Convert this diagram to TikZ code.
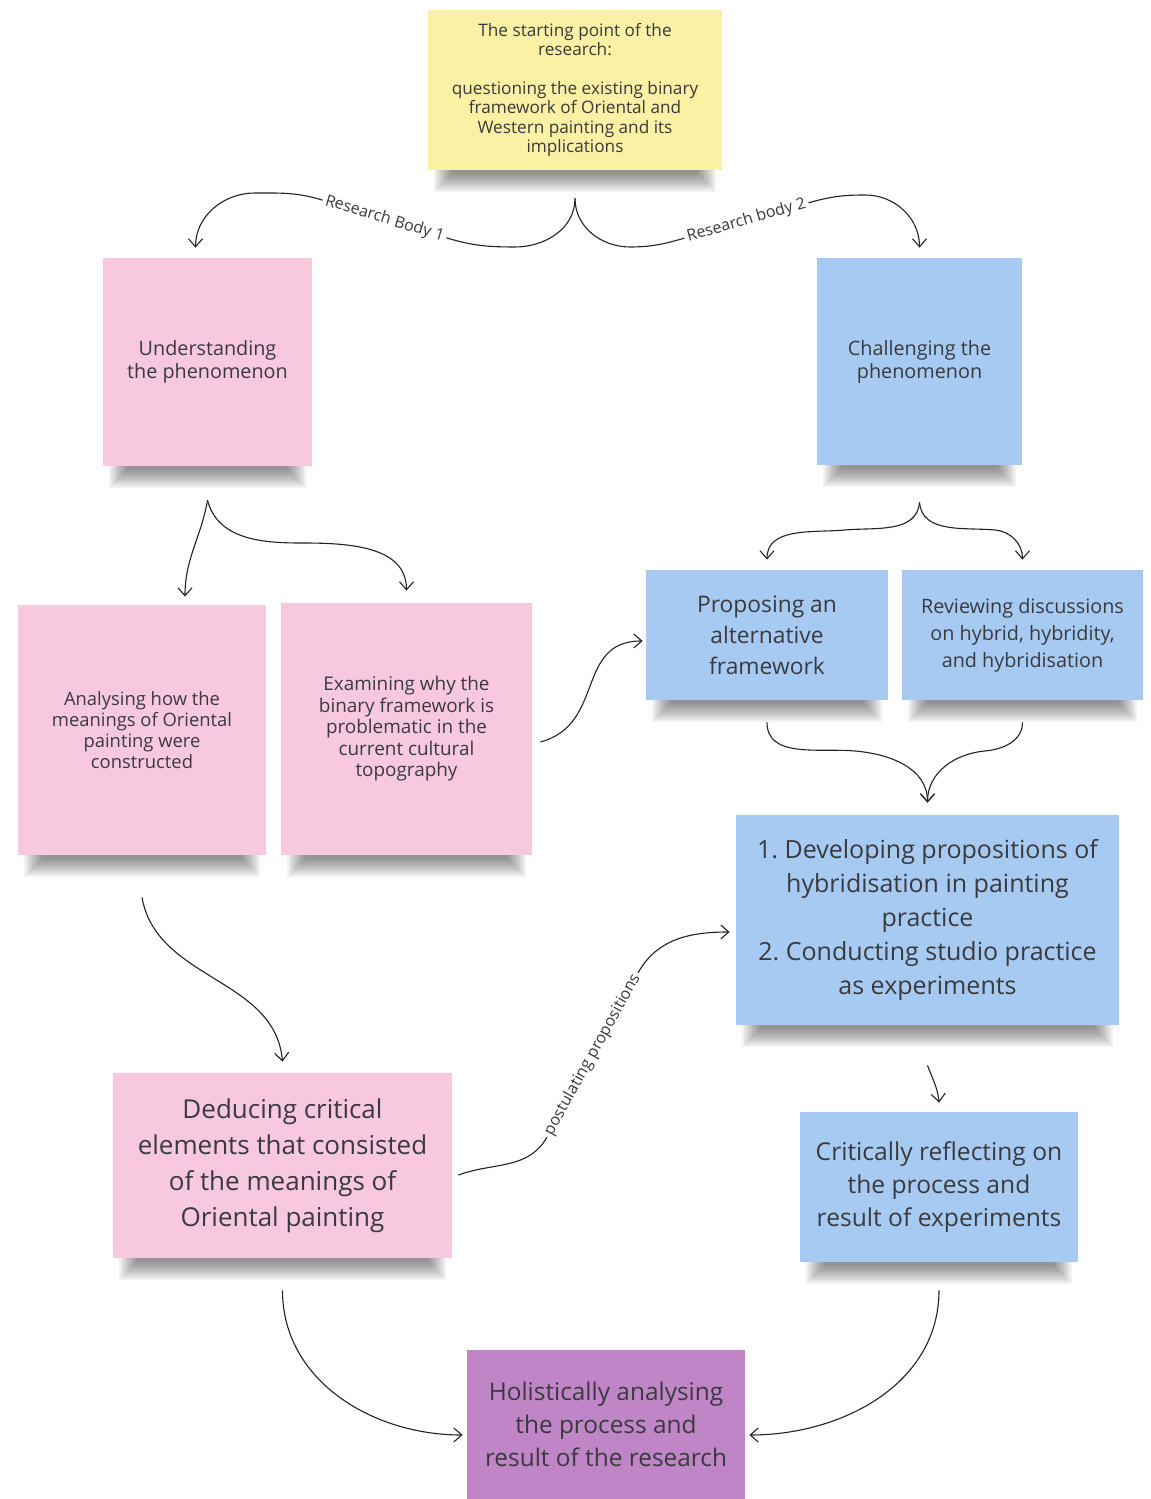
\documentclass[tikz,border=0pt]{standalone}
\usepackage{fontspec}
\setmainfont{Open Sans}
\usepackage{tikz}
\usetikzlibrary{arrows.meta}
\definecolor{noteYellow}{RGB}{250,241,164}
\definecolor{notePink}{RGB}{248,201,222}
\definecolor{noteBlue}{RGB}{167,202,242}
\definecolor{notePurple}{RGB}{191,133,199}
\definecolor{noteInk}{RGB}{58,58,62}
\definecolor{lineInk}{RGB}{35,35,35}
\pgfdeclarelayer{background}
\pgfsetlayers{background,main}

\tikzset{
  note/.style={rectangle, inner sep=0pt, align=center, text=noteInk},
  link/.style={lineInk, line width=0.55pt, -{Straight Barb[length=4pt,width=7pt]}},
  linklabel/.style={fill=white, inner sep=1.5pt, text=noteInk, sloped,
    font=\fontsize{8}{9.5}\selectfont}
}

\begin{document}
\begin{tikzpicture}[x=0.5pt,y=0.5pt]
\useasboundingbox (0,0) rectangle (1151,1499);

% sticky notes
\node[note, fill=noteYellow, minimum width=147pt, minimum height=80pt,
  font=\fontsize{8.6}{9.65}\selectfont] (start) at (575,1409)
  {The starting point of the\\research:\\[9.65pt]questioning the existing binary\\framework of Oriental and\\Western painting and its\\implications};
\node[note, fill=notePink, minimum width=104.5pt, minimum height=104pt,
  font=\fontsize{9.9}{11.5}\selectfont] (under) at (207.5,1137)
  {Understanding\\the phenomenon};
\node[note, fill=noteBlue, minimum width=102.5pt, minimum height=103.5pt,
  font=\fontsize{9.9}{11.5}\selectfont] (chal) at (919.5,1137.5)
  {Challenging the\\phenomenon};
\node[note, fill=notePink, minimum width=124pt, minimum height=125pt,
  font=\fontsize{9.2}{10.5}\selectfont] (anal) at (142,769)
  {Analysing how the\\meanings of Oriental\\painting were\\constructed};
\node[note, fill=notePink, minimum width=125.5pt, minimum height=126pt,
  font=\fontsize{9.45}{10.75}\selectfont] (exam) at (406.5,770)
  {Examining why the\\binary framework is\\problematic in the\\current cultural\\topography};
\node[note, fill=noteBlue, minimum width=121pt, minimum height=65pt,
  font=\fontsize{11.4}{15.5}\selectfont] (prop) at (767,864)
  {Proposing an\\alternative\\framework};
\node[note, fill=noteBlue, minimum width=120.5pt, minimum height=65pt,
  font=\fontsize{9.9}{13.5}\selectfont] (rev) at (1022.5,864)
  {Reviewing discussions\\on hybrid, hybridity,\\and hybridisation};
\node[note, fill=noteBlue, minimum width=191.5pt, minimum height=105pt,
  font=\fontsize{12.5}{17}\selectfont] (dev) at (927.5,579)
  {1.\ Developing propositions of\\hybridisation in painting\\practice\\2.\ Conducting studio practice\\as experiments};
\node[note, fill=notePink, minimum width=169.5pt, minimum height=92.5pt,
  font=\fontsize{13}{18}\selectfont] (dedu) at (282.5,333.5)
  {Deducing critical\\elements that consisted\\of the meanings of\\Oriental painting};
\node[note, fill=noteBlue, minimum width=139pt, minimum height=75pt,
  font=\fontsize{12.3}{16.5}\selectfont] (crit) at (939,312)
  {Critically reflecting on\\the process and\\result of experiments};
\node[note, fill=notePurple, minimum width=139pt, minimum height=74.5pt,
  font=\fontsize{12.2}{16.5}\selectfont] (holi) at (606,74.5)
  {Holistically analysing\\the process and\\result of the research};

% soft shadows under the bottom edges
\begin{pgfonlayer}{background}
\fill[white] (0,0) rectangle (1151,1499);
\foreach \n in {start,under,chal,anal,exam,prop,rev,dev,dedu,crit,holi}
  \foreach \k in {1,...,10}
    \fill[black, opacity=0.05]
      ([shift={({(2+\k)*1pt},2pt)}]\n.south west) rectangle
      ([shift={({-(2+\k)*1pt},{(\k-12)*1pt})}]\n.south east);
\end{pgfonlayer}

% connectors
\draw[link] ([yshift=-14pt]start.south) to[out=-90,in=0] (515,1252)
  to[out=180,in=-17] (447,1261) -- node[linklabel]{Research Body 1} (322,1299)
  to[out=163,in=0] (255,1306) to[out=180,in=90] ([shift={(-6pt,5pt)}]under.north);
\draw[link] ([yshift=-14pt]start.south) to[out=-90,in=180] (630,1252)
  to[out=0,in=196] (685,1261) -- node[linklabel]{Research body 2} (808,1296)
  to[out=16,in=180] (865,1304) to[out=0,in=90] ([yshift=5pt]chal.north);

\draw[link] ([yshift=-17pt]under.south) to[out=-100,in=90] ([shift={(21.5pt,4pt)}]anal.north);
\draw[link] ([yshift=-17pt]under.south) to[out=-75,in=180] (300,956)
  to[out=0,in=90] ([yshift=6pt]exam.north);

\draw[link] ([yshift=-18.5pt]chal.south) to[out=-95,in=5] (845,969)
  to[out=185,in=90] ([yshift=5pt]prop.north);
\draw[link] ([yshift=-18.5pt]chal.south) to[out=-85,in=175] (995,969)
  to[out=-5,in=90] ([yshift=5pt]rev.north);

\draw[link] ([yshift=-11pt]prop.south) to[out=-90,in=175] (855,748)
  to[out=-5,in=90] ([yshift=6pt]dev.north);
\draw[link] ([yshift=-11pt]rev.south) to[out=-90,in=5] (985,748)
  to[out=185,in=90] ([yshift=6pt]dev.north);

\draw[link] ([shift={(4pt,-6.5pt)}]exam.east) to[out=15,in=180,looseness=1.2] ([shift={(-1.5pt,-3pt)}]prop.west);
\draw[link] ([yshift=-21pt]anal.south) to[out=-80,in=95] ([yshift=5.5pt]dedu.north);

\draw[link] ([shift={(3pt,-4.75pt)}]dedu.east) to[out=20,in=241] (547,362)
  -- node[linklabel]{postulating propositions} (638,526)
  to[out=61,in=180] ([shift={(-3pt,-6pt)}]dev.west);

\draw[link] ([yshift=-20pt]dev.south) to[out=-70,in=95] ([yshift=4.5pt]crit.north);

\draw[link] ([yshift=-16pt]dedu.south) to[out=-90,in=180] ([shift={(-2pt,-5.25pt)}]holi.west);
\draw[link] ([yshift=-14pt]crit.south) to[out=-90,in=0] ([shift={(2pt,-5.25pt)}]holi.east);
\end{tikzpicture}
\end{document}
